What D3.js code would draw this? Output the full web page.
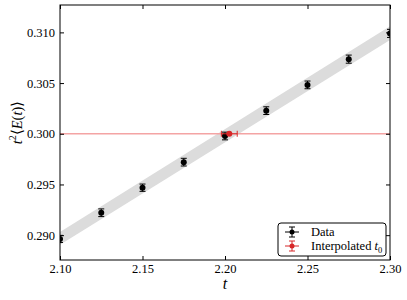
<!DOCTYPE html>
<html>
<head>
<meta charset="utf-8">
<script src="https://cdn.jsdelivr.net/npm/d3@7"></script>
<style>
  html, body { margin: 0; padding: 0; background: #fff; }
  svg { display: block; }
</style>
</head>
<body>
<svg id="chart" width="407" height="300" font-family="Liberation Serif"></svg>
<script>
// Flow time t und t^2 <E(t)> Messwerte
const tValues = [2.100, 2.125, 2.150, 2.175, 2.200, 2.225, 2.250, 2.275, 2.300];
const energyValues = [0.28963, 0.29221, 0.29468, 0.29720, 0.29978, 0.30228, 0.30482, 0.30736, 0.30990];
const energyErrors = [0.00035, 0.00038, 0.00036, 0.00038, 0.00038, 0.00038, 0.00038, 0.00040, 0.00040];

// Interpolierter Punkt t0
const t0Value = [2.2026];
const t0Error = [0.0048];
const t0Energy = [0.300];
const t0EnergyError = [0.0001];

// Fit-Band (untere/obere Grenze an den Enden)
const bandT = [2.10, 2.30];
const bandLow = [0.28905, 0.30925];
const bandHigh = [0.29030, 0.31060];

const referenceLine = 0.300;
const xTicks = [2.10, 2.15, 2.20, 2.25, 2.30];
const yTicks = [0.290, 0.295, 0.300, 0.305, 0.310];

const FONT = "Liberation Serif";
const svg = d3.select("#chart");
const margin = { top: 5, right: 17, bottom: 40, left: 60 };
const width = 407 - margin.left - margin.right;
const height = 300 - margin.top - margin.bottom;

const g = svg.append("g")
  .attr("transform", `translate(${margin.left},${margin.top})`);

const x = d3.scaleLinear().domain([2.10, 2.30]).range([0, width]);
const y = d3.scaleLinear().domain([0.28755, 0.3127]).range([height, 0]);

g.append("clipPath").attr("id", "clip")
  .append("rect").attr("width", width).attr("height", height);

const plot = g.append("g").attr("clip-path", "url(#clip)");

// Fit-Band
const bandData = bandT.map((t, i) => ({ t, lo: bandLow[i], hi: bandHigh[i] }));
plot.append("path")
  .datum(bandData)
  .attr("fill", "#dcdcdc")
  .attr("d", d3.area().x(d => x(d.t)).y0(d => y(d.lo)).y1(d => y(d.hi)));

// Referenzlinie 0.300
plot.append("line")
  .attr("x1", 0).attr("x2", width)
  .attr("y1", y(referenceLine)).attr("y2", y(referenceLine))
  .attr("stroke", "#f4a4a4")
  .attr("stroke-width", 1.6);

// Datenpunkte mit Fehlerbalken
const data = tValues.map((t, i) => ({ t, e: energyValues[i], err: energyErrors[i] }));
const pts = plot.append("g").selectAll("g").data(data).enter().append("g");
pts.append("line")
  .attr("x1", d => x(d.t)).attr("x2", d => x(d.t))
  .attr("y1", d => y(d.e - d.err)).attr("y2", d => y(d.e + d.err))
  .attr("stroke", "#000").attr("stroke-width", 1);
[-1, 1].forEach(s => {
  pts.append("line")
    .attr("x1", d => x(d.t) - 3).attr("x2", d => x(d.t) + 3)
    .attr("y1", d => y(d.e + s * d.err)).attr("y2", d => y(d.e + s * d.err))
    .attr("stroke", "#000").attr("stroke-width", 1);
});
pts.append("circle")
  .attr("cx", d => x(d.t)).attr("cy", d => y(d.e))
  .attr("r", 3).attr("fill", "#000");

// Interpolierter Punkt
const t0 = t0Value.map((t, i) => ({ t, err: t0Error[i], e: t0Energy[i], eerr: t0EnergyError[i] }));
const tp = plot.append("g").selectAll("g").data(t0).enter().append("g");
const red = "#d62728";
tp.append("line")
  .attr("x1", d => x(d.t - d.err)).attr("x2", d => x(d.t + d.err))
  .attr("y1", d => y(d.e)).attr("y2", d => y(d.e))
  .attr("stroke", red).attr("stroke-width", 1);
[-1, 1].forEach(s => {
  tp.append("line")
    .attr("x1", d => x(d.t + s * d.err)).attr("x2", d => x(d.t + s * d.err))
    .attr("y1", d => y(d.e) - 3).attr("y2", d => y(d.e) + 3)
    .attr("stroke", red).attr("stroke-width", 1);
});
tp.append("line")
  .attr("x1", d => x(d.t)).attr("x2", d => x(d.t))
  .attr("y1", d => y(d.e - d.eerr)).attr("y2", d => y(d.e + d.eerr))
  .attr("stroke", red).attr("stroke-width", 1);
tp.append("circle")
  .attr("cx", d => x(d.t)).attr("cy", d => y(d.e))
  .attr("r", 3).attr("fill", red);

// Achsen (Ticks nach innen, auf allen Seiten)
const axB = g.append("g").attr("transform", `translate(0,${height})`)
  .call(d3.axisBottom(x).tickValues(xTicks).tickFormat(d3.format(".2f")).tickSizeInner(-4).tickSizeOuter(0).tickPadding(4));
const axT = g.append("g")
  .call(d3.axisTop(x).tickValues(xTicks).tickFormat("").tickSizeInner(-4).tickSizeOuter(0));
const axL = g.append("g")
  .call(d3.axisLeft(y).tickValues(yTicks).tickFormat(d3.format(".3f")).tickSizeInner(-4).tickSizeOuter(0).tickPadding(5));
const axR = g.append("g").attr("transform", `translate(${width},0)`)
  .call(d3.axisRight(y).tickValues(yTicks).tickFormat("").tickSizeInner(-4).tickSizeOuter(0));

[axB, axT, axL, axR].forEach(a => {
  a.attr("font-family", FONT).attr("font-size", 12.5);
  a.select(".domain").remove();
  a.selectAll("line").attr("stroke", "#000");
  a.selectAll("text").attr("font-family", FONT).attr("fill", "#000");
});

// Rahmen
g.append("rect")
  .attr("width", width).attr("height", height)
  .attr("fill", "none").attr("stroke", "#000").attr("stroke-width", 1);

// Achsenbeschriftungen
g.append("text")
  .attr("x", width / 2).attr("y", height + 29)
  .attr("text-anchor", "middle")
  .attr("font-family", FONT)
  .attr("font-size", 16).attr("font-style", "italic")
  .text("t");

const yl = g.append("text")
  .attr("transform", `translate(-38,${height / 2 - 10}) rotate(-90)`)
  .attr("text-anchor", "middle")
  .attr("font-family", FONT)
  .attr("font-size", 14.5);
yl.append("tspan").attr("font-style", "italic").text("t");
yl.append("tspan").attr("font-size", 10).attr("dy", -6).text("2");
yl.append("tspan").attr("dy", 6).text("\u27E8");
yl.append("tspan").attr("font-style", "italic").text("E");
yl.append("tspan").text("(");
yl.append("tspan").attr("font-style", "italic").text("t");
yl.append("tspan").text(")\u27E9");

// Legende
const legend = g.append("g").attr("transform", `translate(${width - 112},${height - 37})`);
legend.append("rect")
  .attr("width", 108).attr("height", 33).attr("rx", 3)
  .attr("fill", "#fff").attr("stroke", "#000").attr("stroke-width", 1);
const legendData = [
  { label: "Data", color: "#000" },
  { label: "Interpolated ", sub: true, color: red }
];
const lg = legend.selectAll("g.item").data(legendData).enter().append("g")
  .attr("class", "item")
  .attr("transform", (d, i) => `translate(14,${9 + i * 14})`);
lg.append("line").attr("x1", -7).attr("x2", 7).attr("stroke", d => d.color);
lg.append("line").attr("y1", -5).attr("y2", 5).attr("stroke", d => d.color);
lg.append("line").attr("x1", -3).attr("x2", 3).attr("y1", -5).attr("y2", -5).attr("stroke", d => d.color);
lg.append("line").attr("x1", -3).attr("x2", 3).attr("y1", 5).attr("y2", 5).attr("stroke", d => d.color);
lg.append("circle").attr("r", 2.5).attr("fill", d => d.color);
const lt = lg.append("text")
  .attr("x", 19).attr("y", 4)
  .attr("font-family", FONT)
  .attr("font-size", 12.5);
lt.append("tspan").text(d => d.label);
lt.filter(d => d.sub).append("tspan").attr("font-style", "italic").text("t");
lt.filter(d => d.sub).append("tspan").attr("font-size", 8.5).attr("dy", 3).text("0");
</script>
</body>
</html>
